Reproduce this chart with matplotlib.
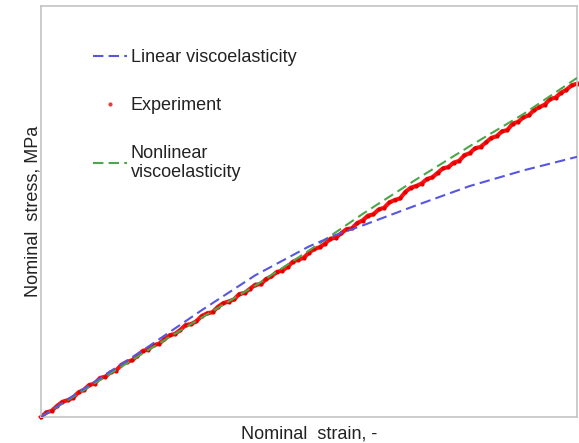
import numpy as np
import matplotlib
matplotlib.use("Agg")
import matplotlib.pyplot as plt
from matplotlib.lines import Line2D

plt.rcParams['font.family'] = ['Liberation Sans', 'DejaVu Sans']

# Measured stress-strain response (normalised units)
exp_strain = np.linspace(0.0, 1.0, 101)
exp_stress = [
    0.000, 0.011, 0.015, 0.027, 0.037, 0.041, 0.047, 0.060, 0.066, 0.078,
    0.081, 0.095, 0.098, 0.109, 0.113, 0.127, 0.134, 0.138, 0.149, 0.161,
    0.164, 0.175, 0.178, 0.189, 0.199, 0.202, 0.212, 0.224, 0.226, 0.233,
    0.246, 0.252, 0.255, 0.268, 0.277, 0.281, 0.286, 0.299, 0.302, 0.312,
    0.322, 0.323, 0.336, 0.342, 0.353, 0.356, 0.365, 0.378, 0.383, 0.387,
    0.400, 0.409, 0.413, 0.422, 0.434, 0.436, 0.447, 0.457, 0.459, 0.472,
    0.478, 0.490, 0.493, 0.505, 0.509, 0.522, 0.528, 0.532, 0.548, 0.558,
    0.562, 0.568, 0.579, 0.583, 0.594, 0.605, 0.608, 0.619, 0.623, 0.637,
    0.642, 0.654, 0.657, 0.668, 0.679, 0.683, 0.695, 0.698, 0.714, 0.718,
    0.729, 0.734, 0.747, 0.754, 0.760, 0.774, 0.777, 0.789, 0.796, 0.807,
    0.811,
]

# Linear viscoelastic model prediction
lin_strain = [0.0, 0.1, 0.2, 0.3, 0.4, 0.5, 0.55, 0.6, 0.7, 0.8, 0.9, 1.0]
lin_stress = [0.0, 0.086, 0.171, 0.260, 0.345, 0.415, 0.443, 0.466, 0.515, 0.562, 0.600, 0.633]

# Nonlinear viscoelastic model prediction
nl_strain = [0.0, 0.1, 0.2, 0.3, 0.4, 0.5, 0.6, 0.7, 0.8, 0.9, 1.0]
nl_stress = [0.0, 0.082, 0.163, 0.242, 0.320, 0.405, 0.494, 0.578, 0.659, 0.737, 0.825]

labels = ["Linear viscoelasticity", "Experiment", "Nonlinear\nviscoelasticity"]

blue = "#5656e0"
green = "#4aa84a"
red = "#ff1010"

fig = plt.figure(figsize=(5.79, 4.43), dpi=100)
ax = fig.add_axes([41 / 579, 26 / 443, 536 / 579, 411 / 443])

ax.plot(exp_strain, exp_stress, color=red, lw=3.0, marker='.', ms=4,
        mec="#e00000", mfc="#e00000", zorder=2, clip_on=False)
ax.plot(nl_strain, nl_stress, color=green, lw=1.5, dashes=(5, 2.5), zorder=3)
ax.plot(lin_strain, lin_stress, color=blue, lw=1.5, dashes=(5, 2.5), zorder=3)

ax.set_xlim(0, 1)
ax.set_ylim(0, 1)
ax.set_xticks([])
ax.set_yticks([])
for s in ax.spines.values():
    s.set_color("#c4c4c4")
    s.set_linewidth(1.2)

ax.set_xlabel("Nominal  strain, -", fontsize=13, color="#222222", labelpad=6)
ax.set_ylabel("Nominal  stress, MPa", fontsize=13, color="#222222", labelpad=0)

handles = [
    Line2D([], [], color=blue, lw=1.5, dashes=(5, 2.5)),
    Line2D([], [], color=red, lw=0, marker='.', ms=4, mec="#e04040", mfc="#e04040"),
    Line2D([], [], color=green, lw=1.5, dashes=(5, 2.5)),
]
ax.legend(handles, labels, loc="upper left", bbox_to_anchor=(0.097, 0.895),
          frameon=False, fontsize=13, handlelength=1.9, handletextpad=0.2,
          labelspacing=1.7, borderpad=0, borderaxespad=0, labelcolor="#222222")

fig.savefig("out.png", dpi=100)
